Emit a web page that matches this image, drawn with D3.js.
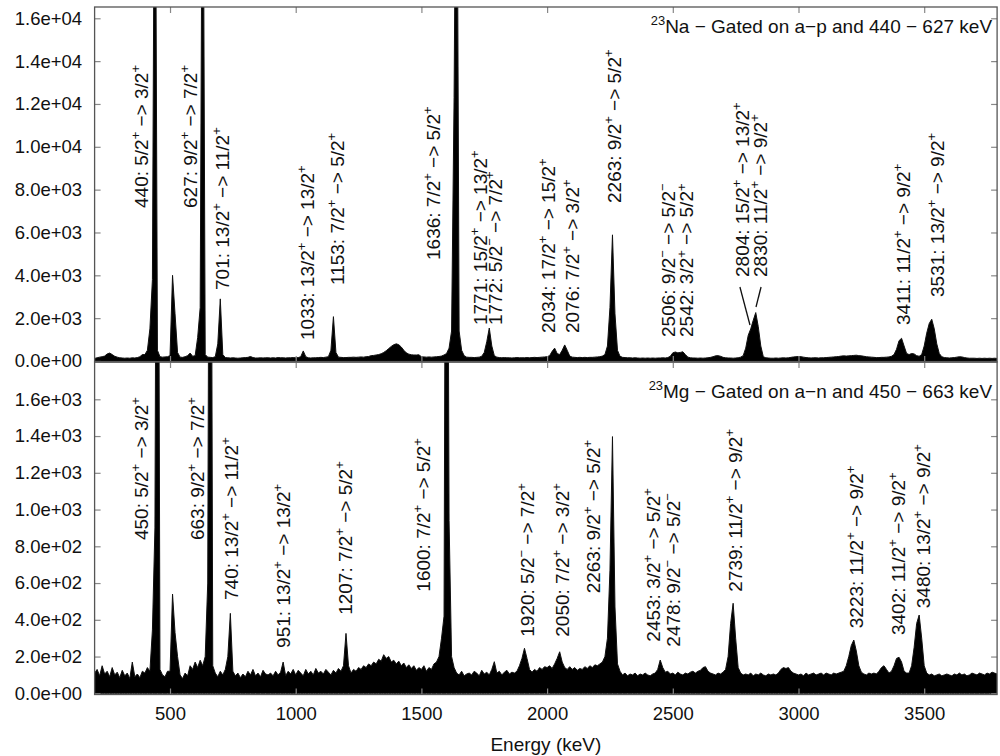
<!DOCTYPE html>
<html><head><meta charset="utf-8">
<script src="https://cdn.jsdelivr.net/npm/d3@7"></script>
<style>body{margin:0;background:#fff}</style>
</head><body><svg id="c" width="1000" height="756"></svg>
<script>
// ---------------- DATA ----------------
// spectra: counts per 10 keV bin, bins centred at 200, 210, ... 3790 keV
const binStart = 200, binStep = 10;
const naCounts = [
 120,150,180,200,230,330,370,300,220,180,
 150,140,130,140,130,150,140,160,200,300,
 300,500,1500,3800,30000,500,200,180,190,200,
 250,4000,2200,400,180,170,200,250,370,220,
 250,1100,2500,30000,300,180,170,160,200,800,
 2900,300,160,150,140,150,140,130,140,150,
 160,170,210,160,140,140,150,140,150,150,
 140,150,140,160,150,150,140,150,150,160,
 150,160,200,470,200,150,140,150,150,160,
 170,160,180,200,500,2070,400,180,170,160,
 160,170,170,180,170,180,190,180,200,210,
 250,260,280,300,340,400,480,580,680,760,
 800,760,650,500,380,320,290,280,280,290,
 200,190,180,190,180,190,200,210,230,280,
 350,600,1400,12300,30000,1400,500,250,180,170,
 170,160,170,180,220,400,900,1540,700,250,
 180,160,150,160,150,150,140,150,160,150,
 150,150,160,150,160,170,160,170,180,190,
 200,250,450,600,350,300,500,750,500,230,
 180,170,160,170,160,170,160,170,170,180,
 190,200,230,300,700,2500,5890,2200,500,220,
 170,160,150,150,140,150,140,130,140,130,
 140,130,140,130,140,140,150,140,160,220,
 380,420,380,400,430,300,180,150,140,140,
 130,140,130,140,150,170,200,240,250,220,
 170,150,140,140,130,140,150,180,250,600,
 1200,1500,1900,2260,1600,700,200,150,140,130,
 130,140,130,140,150,140,150,170,190,200,
 210,200,180,160,150,140,150,150,140,150,
 150,160,170,180,190,200,210,230,240,230,
 240,250,260,270,250,240,220,200,190,180,
 170,160,160,170,170,180,190,220,300,550,
 950,1060,700,350,300,350,330,250,220,300,
 700,1300,1750,1950,1500,800,350,200,160,150,
 140,150,160,180,200,190,160,140,130,130,
 130,120,130,120,130,120,130,120,130,120
];
const mgCounts = [
 110,130,95,150,105,120,90,140,100,115,
 85,125,95,110,80,170,90,105,85,120,
 110,140,120,345,900,5000,130,100,90,120,
 120,540,330,200,100,80,110,95,150,130,
 170,140,180,150,200,600,5000,150,110,90,
 120,100,130,200,435,120,95,110,85,105,
 90,120,100,130,95,110,90,125,105,100,
 110,95,120,100,115,170,95,120,105,130,
 100,125,110,95,130,105,120,100,135,110,
 120,105,130,115,100,125,110,135,120,150,
 326,150,110,130,120,140,130,150,140,160,
 150,170,160,185,175,210,190,200,170,180,
 160,175,150,165,140,155,135,150,125,140,
 130,150,120,140,130,160,170,200,300,420,
 5000,940,200,140,110,100,120,95,105,110,
 100,120,110,95,125,105,115,100,130,172,
 110,120,100,115,125,105,115,110,120,150,
 190,245,190,130,115,130,120,140,130,145,
 140,150,135,160,190,226,170,140,130,145,
 130,140,125,135,130,145,135,150,140,155,
 150,160,170,200,300,670,1397,470,160,120,
 100,110,95,105,100,110,95,105,100,110,
 100,95,105,110,130,181,140,115,120,105,
 110,100,115,105,100,110,105,115,120,110,
 120,125,140,145,120,110,105,100,110,105,
 115,130,200,380,490,300,140,110,100,105,
 100,110,95,105,100,110,100,95,105,100,
 105,100,110,130,140,135,140,120,110,105,
 100,105,95,110,100,105,110,100,105,110,
 100,110,105,100,110,105,110,115,120,150,
 200,260,290,230,150,115,105,100,110,105,
 110,105,120,140,150,130,110,120,150,190,
 196,170,120,110,110,150,250,380,426,300,
 150,110,100,105,95,100,105,95,100,105,
 100,95,105,100,110,100,105,95,100,110,
 105,100,110,105,100,110,105,115,110,105
];

const xTicks = [500,1000,1500,2000,2500,3000,3500];
const naYTicks = [0,2000,4000,6000,8000,10000,12000,14000,16000];
const naYTickLabels = ["0.0e+00","2.0e+03","4.0e+03","6.0e+03","8.0e+03","1.0e+04","1.2e+04","1.4e+04","1.6e+04"];
const mgYTicks = [0,200,400,600,800,1000,1200,1400,1600];
const mgYTickLabels = ["0.0e+00","2.0e+02","4.0e+02","6.0e+02","8.0e+02","1.0e+03","1.2e+03","1.4e+03","1.6e+03"];

const naTitle = "^{23}Na − Gated on a−p and 440 − 627 keV";
const mgTitle = "^{23}Mg − Gated on a−n and 450 − 663 keV";
const xTitle = "Energy (keV)";

const naLabels = [
 "440: 5/2^{+} −> 3/2^{+}", "627: 9/2^{+} −> 7/2^{+}", "701: 13/2^{+} −> 11/2^{+}",
 "1033: 13/2^{+} −> 13/2^{+}", "1153: 7/2^{+} −> 5/2^{+}", "1636: 7/2^{+} −> 5/2^{+}",
 "1771: 15/2^{+} −> 13/2^{+}", "1772: 5/2^{−} −> 7/2^{+}", "2034: 17/2^{+} −> 15/2^{+}",
 "2076: 7/2^{+} −> 3/2^{+}", "2263: 9/2^{+} −> 5/2^{+}", "2506: 9/2^{−} −> 5/2^{−}",
 "2542: 3/2^{+} −> 5/2^{+}", "2804: 15/2^{+} −> 13/2^{+}", "2830: 11/2^{+} −> 9/2^{+}",
 "3411: 11/2^{+} −> 9/2^{+}", "3531: 13/2^{+} −> 9/2^{+}"
];
const mgLabels = [
 "450: 5/2^{+} −> 3/2^{+}", "663: 9/2^{+} −> 7/2^{+}", "740: 13/2^{+} −> 11/2^{+}",
 "951: 13/2^{+} −> 13/2^{+}", "1207: 7/2^{+} −> 5/2^{+}", "1600: 7/2^{+} −> 5/2^{+}",
 "1920: 5/2^{−} −> 7/2^{+}", "2050: 7/2^{+} −> 3/2^{+}", "2263: 9/2^{+} −> 5/2^{+}",
 "2453: 3/2^{+} −> 5/2^{+}", "2478: 9/2^{−} −> 5/2^{−}", "2739: 11/2^{+} −> 9/2^{+}",
 "3223: 11/2^{+} −> 9/2^{+}", "3402: 11/2^{+} −> 9/2^{+}", "3480: 13/2^{+} −> 9/2^{+}"
];

// ---------------- LAYOUT (label anchors in data coords: keV, counts) ----------------
const naLabelAt = [[387,7143],[580,7143],[706,3315],[1045,980],[1164,3548],[1546,4715],
 [1733,1680],[1793,1680],[2005,1307],[2098,1307],[2267,7376],[2482,1120],[2555,1120],
 [2774,3922],[2847,3922],[3417,1680],[3550,2988]];
const mgLabelAt = [[387,834],[606,834],[745,508],[949,247],[1196,427],[1508,553],
 [1919,308],[2058,308],[2184,544],[2423,281],[2502,254],[2747,553],[3228,354],[3397,317],[3496,463]];
const naPointers = [[[2767,3455],[2807,1681]],[[2851,3455],[2831,2521]]];

const L = 94.6, R = 997.1;
const P1 = {top: 7, bottom: 362};
const P2 = {top: 362, bottom: 694.5};
const FONT = "'Liberation Sans', Arial, Helvetica, sans-serif";
const labelSize = 19, tickSize = 18.5;

const svg = d3.select("#c");
const x = d3.scaleLinear().domain([200, 3790]).range([L, R]);
const yNa = d3.scaleLinear().domain([-47, 16527]).range([P1.bottom, P1.top]);
const yMg = d3.scaleLinear().domain([-6.5, 1803]).range([P2.bottom, P2.top]);

function rich(textSel, str, size) {
  const parts = str.split(/\^\{([^}]*)\}/);
  const shift = size * 0.42;
  let raised = false;
  parts.forEach((p, i) => {
    if (i % 2 === 1) {
      textSel.append("tspan").attr("dy", -shift).attr("font-size", size * 0.68).text(p);
      raised = true;
    } else {
      if (p === "") return;
      const t = textSel.append("tspan").text(p);
      if (raised) { t.attr("dy", shift); raised = false; }
    }
  });
}

function panel(counts, y, P, id, yTicks, yTickLabels, labels, labelAt, title, titleY, showX) {
  const g = svg.append("g");
  const clipId = "clip" + id;
  svg.append("clipPath").attr("id", clipId).append("rect")
    .attr("x", L).attr("y", P.top).attr("width", R - L).attr("height", P.bottom - P.top);
  const pts = counts.map((v, i) => ({e: binStart + i * binStep, v}));
  const area = d3.area().x(d => x(d.e)).y0(y(0)).y1(d => y(d.v)).curve(d3.curveLinear);
  g.append("path").datum(pts).attr("clip-path", `url(#${clipId})`)
    .attr("d", area).attr("fill", "#000").attr("stroke", "#111").attr("stroke-width", 1);

  const axL = g.append("g").attr("transform", `translate(${L},0)`)
    .call(d3.axisLeft(y).tickValues(yTicks).tickSize(-6).tickPadding(12.5).tickFormat((d, i) => yTickLabels[i]));
  const axR = g.append("g").attr("transform", `translate(${R},0)`)
    .call(d3.axisRight(y).tickValues(yTicks).tickSize(-6).tickFormat(""));
  const axT = g.append("g").attr("transform", `translate(0,${P.top})`)
    .call(d3.axisTop(x).tickValues(xTicks).tickSize(-6).tickFormat(""));
  const axB = g.append("g").attr("transform", `translate(0,${P.bottom})`)
    .call(d3.axisBottom(x).tickValues(xTicks).tickSize(-6).tickPadding(12).tickFormat(showX ? (d => d) : ""));
  [axL, axR, axT, axB].forEach(a => {
    a.select(".domain").remove();
    a.attr("font-family", FONT).attr("font-size", tickSize);
    a.selectAll(".tick line").attr("stroke", "#888").attr("stroke-width", 1.2);
    a.selectAll(".tick text").attr("fill", "#111");
  });

  g.append("rect").attr("x", L).attr("y", P.top).attr("width", R - L).attr("height", P.bottom - P.top)
    .attr("fill", "none").attr("stroke", "#555").attr("stroke-width", 1.3);

  labels.forEach((s, i) => {
    const [e, c] = labelAt[i];
    const t = g.append("text")
      .attr("transform", `translate(${x(e)},${y(c)}) rotate(-90)`)
      .attr("x", 0).attr("y", labelSize * 0.36)
      .attr("font-family", FONT).attr("font-size", labelSize).attr("fill", "#111");
    rich(t, s, labelSize);
  });

  const tt = g.append("text").attr("x", R - 5).attr("y", titleY).attr("text-anchor", "end")
    .attr("font-family", FONT).attr("font-size", labelSize).attr("fill", "#111");
  rich(tt, title, labelSize);
  return g;
}

panel(naCounts, yNa, P1, "na", naYTicks, naYTickLabels, naLabels, naLabelAt, naTitle, 33, false);
panel(mgCounts, yMg, P2, "mg", mgYTicks, mgYTickLabels, mgLabels, mgLabelAt, mgTitle, 398, true);

const ln = d3.line().x(d => x(d[0])).y(d => yNa(d[1]));
naPointers.forEach(p => svg.append("path").attr("d", ln(p)).attr("fill", "none")
  .attr("stroke", "#111").attr("stroke-width", 1.3));

svg.append("text").attr("x", x(1995)).attr("y", 751).attr("text-anchor", "middle")
  .attr("font-family", FONT).attr("font-size", labelSize).attr("fill", "#111").text(xTitle);
</script></body></html>
